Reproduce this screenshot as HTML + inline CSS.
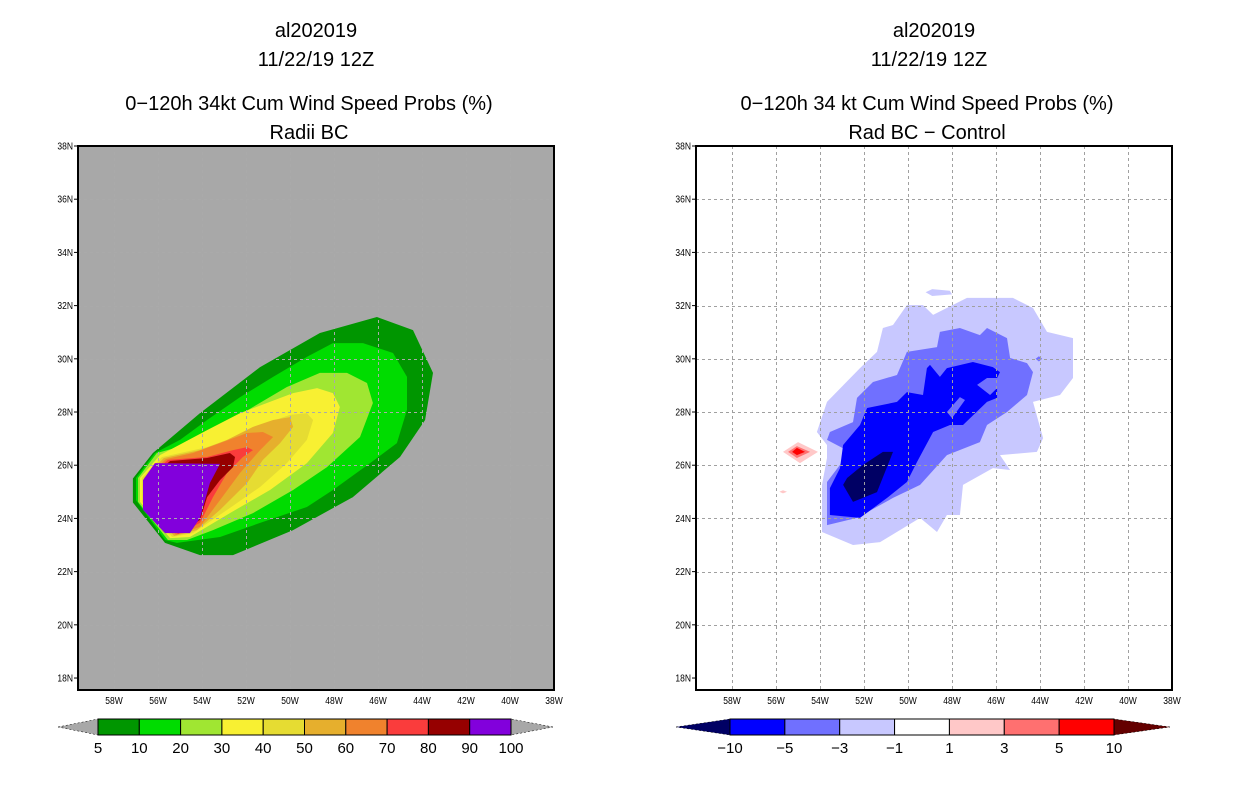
<!DOCTYPE html>
<html><head><meta charset="utf-8"><style>
html,body{margin:0;padding:0;background:#fff;}
svg{display:block;font-family:"Liberation Sans",sans-serif;}
</style></head><body>
<svg id="fig" width="1236" height="800" viewBox="0 0 1236 800">
<rect x="0" y="0" width="1236" height="800" fill="#fff"/>
<g font-size="20" text-anchor="middle" fill="#000">
<text x="316" y="37">al202019</text>
<text x="316" y="66">11/22/19 12Z</text>
<text x="309" y="110">0−120h 34kt Cum Wind Speed Probs (%)</text>
<text x="309" y="139">Radii BC</text>
</g>
<g font-size="20" text-anchor="middle" fill="#000">
<text x="934" y="37">al202019</text>
<text x="929" y="66">11/22/19 12Z</text>
<text x="927" y="110">0−120h 34 kt Cum Wind Speed Probs (%)</text>
<text x="927" y="139">Rad BC − Control</text>
</g>
<g id="left"></g>
<g id="right"></g>
<g id="cbl"></g>
<g id="cbr"></g>
</svg>
<script>
// ---- data ----
const lonTicks = [58,56,54,52,50,48,46,44,42,40,38];
const latTicks = [38,36,34,32,30,28,26,24,22,20,18];
const probLevels = ['5','10','20','30','40','50','60','70','80','90','100'];
const probColors = ['#009600','#00dc00','#a0e632','#f8f032','#e6dc32','#e6af2d','#f0822d','#fa3c3c','#960000','#8200dc'];
const diffLevels = ['−10','−5','−3','−1','1','3','5','10'];
const diffColors = ['#000064','#0000ff','#7070ff','#c8c8ff','#ffffff','#ffc8c8','#ff7070','#ff0000','#640000'];

const prob5 = [[56.23,26.46],[57.14,25.5],[57.14,24.6],[55.68,23.08],[54.09,22.62],[52.59,22.62],[49.86,23.56],[47.14,24.80],[45.0,26.31],[43.86,27.70],[43.5,29.47],[44.41,31.08],[46.05,31.57],[48.64,30.97],[51.36,29.69],[54.09,27.96]];
const prob10 = [[56.14,26.46],[57.0,25.52],[57.0,24.69],[55.68,23.19],[55.14,23.08],[53.18,23.30],[51.36,23.83],[49.23,24.43],[48.05,25.07],[46.36,26.08],[45.14,26.83],[44.68,28.08],[44.68,29.32],[45.32,30.22],[46.68,30.59],[48.05,30.59],[49.23,30.07],[50.77,29.32],[52.27,28.56],[53.77,27.70],[55.0,26.95]];
const prob20 = [[56.05,26.46],[56.91,25.52],[56.91,24.62],[55.55,23.19],[54.68,23.19],[53.5,23.56],[51.68,24.20],[49.86,25.07],[48.32,25.93],[46.82,27.06],[46.23,28.34],[46.5,29.09],[47.41,29.47],[48.64,29.47],[50.14,28.94],[51.68,28.19],[53.18,27.44],[54.41,26.83]];
const prob30 = [[55.91,26.38],[56.82,25.52],[56.82,24.62],[55.45,23.26],[54.55,23.30],[52.73,24.20],[50.91,25.07],[49.23,26.08],[48.05,27.21],[47.73,28.19],[48.05,28.71],[48.77,28.90],[49.86,28.71],[51.05,28.34],[52.27,27.96],[53.77,27.32]];
const prob40 = [[55.82,26.31],[56.73,25.52],[56.73,24.62],[55.36,23.30],[54.41,23.45],[52.86,24.32],[51.36,25.18],[50.14,26.08],[49.23,26.95],[48.95,27.70],[49.23,27.96],[50.0,27.89],[51.05,27.59],[52.41,27.06],[53.77,26.68]];
const prob50 = [[55.73,26.27],[56.64,25.52],[56.64,24.62],[55.27,23.34],[54.23,23.56],[53.18,24.32],[51.95,25.33],[51.23,26.20],[50.45,26.83],[49.86,27.44],[50.0,27.81],[50.77,27.70],[51.68,27.44],[52.86,26.95],[54.09,26.57]];
const prob60 = [[55.64,26.23],[56.55,25.52],[56.55,24.62],[55.18,23.38],[54.09,23.68],[53.18,24.69],[52.27,25.71],[51.36,26.57],[50.77,27.06],[51.23,27.25],[51.95,27.21],[53.18,26.83],[54.41,26.46]];
const prob70 = [[55.55,26.20],[56.45,25.52],[56.45,24.62],[55.09,23.41],[54.09,23.83],[53.5,24.80],[52.86,25.71],[52.14,26.31],[51.68,26.57],[51.95,26.68],[52.59,26.57],[53.77,26.31]];
const prob80 = [[55.45,26.16],[56.36,25.52],[56.36,24.62],[55.0,23.45],[54.09,23.94],[53.77,24.80],[53.18,25.44],[52.59,25.93],[52.5,26.31],[52.73,26.46],[53.77,26.27]];
const prob90 = [[56.14,26.08],[53.18,26.05],[53.64,25.33],[53.95,24.43],[54.09,24.02],[54.55,23.45],[55.68,23.45],[56.68,24.32],[56.68,25.44]];

const diffM1 = [[53.91,23.49],[52.5,23.0],[51.27,23.11],[49.45,24.02],[48.68,23.49],[48.23,24.13],[47.64,24.13],[47.5,25.26],[46.14,25.89],[45.36,25.82],[45.82,26.38],[44.14,26.50],[43.86,27.02],[44.32,28.38],[43.09,28.64],[42.5,29.28],[42.5,30.78],[43.68,31.01],[44.32,31.91],[45.23,32.29],[47.32,32.29],[48.86,31.65],[49.32,32.02],[50.05,32.02],[50.68,31.27],[51.14,31.16],[51.41,30.26],[52.18,29.65],[53.68,28.38],[54.14,27.25],[53.68,26.76],[53.68,26.27],[53.91,25.26]];
const diffM1b = [[49.2,32.5],[48.9,32.62],[48.1,32.56],[48.0,32.42],[48.9,32.36]];
const diffM3 = [[53.68,23.75],[52.32,24.02],[50.68,24.77],[49.45,25.26],[48.23,26.38],[46.73,26.87],[46.41,27.51],[45.5,28.0],[44.59,28.64],[44.32,29.50],[44.59,29.84],[45.36,30.03],[45.5,30.78],[46.41,31.16],[46.73,30.89],[47.64,31.16],[48.55,31.01],[48.68,30.44],[50.05,30.26],[50.5,29.39],[51.59,29.13],[52.32,28.53],[52.5,27.62],[53.55,27.25],[53.68,26.95],[52.64,26.50],[53.68,25.37]];
const diffM3b = [[44.2,30.0],[44.05,30.1],[43.9,30.0],[44.05,29.9]];
const diffM5 = [[53.55,24.13],[52.18,24.02],[50.95,24.77],[50.05,25.37],[49.59,26.12],[48.86,27.25],[48.09,27.51],[47.5,27.51],[46.41,28.38],[45.95,28.53],[45.95,28.90],[46.27,28.64],[46.86,29.02],[46.41,29.28],[45.95,29.28],[45.82,29.50],[46.14,29.69],[47.05,29.88],[48.23,29.65],[48.55,29.32],[49.0,29.77],[49.14,29.65],[49.32,28.64],[50.05,28.75],[50.5,28.38],[51.86,28.15],[52.18,27.51],[52.95,26.76],[53.09,25.89],[53.55,25.14]];
const diffM5hole = [[48.23,28.0],[47.64,28.56],[47.41,28.45],[48.0,27.77]];
const diffM10 = [[52.95,25.26],[52.5,24.62],[51.41,24.99],[50.68,26.50],[51.14,26.50],[52.05,26.01],[52.77,25.52]];
const diffP1 = [[55.68,26.5],[55.0,26.87],[54.09,26.5],[54.91,26.08]];
const diffP1b = [[55.85,25.0],[55.68,25.06],[55.5,25.0],[55.68,24.94]];
const diffP3 = [[55.45,26.5],[55.05,26.72],[54.45,26.5],[55.05,26.27]];
const diffP5 = [[55.27,26.5],[55.05,26.65],[54.68,26.5],[55.05,26.38]];

// ---- helpers ----
const NS='http://www.w3.org/2000/svg';
function mk(tag,attrs,parent){const e=document.createElementNS(NS,tag);for(const k in attrs)e.setAttribute(k,attrs[k]);parent.appendChild(e);return e;}
const PT=146, PB=690, PW=476;
function xs(x0){return lon=>x0+PW-(lon-38)*22;}
function ys(lat){return PT+(38-lat)*((PB-PT)/20.45);}

function panel(g,x0,bg,polys,gridCol){
  const X=xs(x0);
  const bgr=mk('rect',{x:x0,y:PT,width:PW,height:PB-PT,fill:bg},g);
  
  
  const clipId='clip'+x0;
  const cp=mk('clipPath',{id:clipId},g);
  mk('rect',{x:x0,y:PT,width:PW,height:PB-PT},cp);
  const pg=mk('g',{'clip-path':'url(#'+clipId+')'},g);
  polys.forEach(p=>{
    const el=mk('polygon',{points:p.pts.map(q=>X(q[0]).toFixed(1)+','+ys(q[1]).toFixed(1)).join(' '),fill:p.c},pg);
    
    
  });
  const gg=mk('g',{stroke:gridCol,'stroke-width':1,'stroke-dasharray':'3,3',fill:'none'},g);
  
  
  lonTicks.forEach(l=>{if(l>38){const x=Math.round(X(l))+0.5;mk('line',{x1:x,y1:PT,x2:x,y2:PB},gg);}});
  latTicks.forEach(l=>{if(l>18&&l<38){const y=Math.round(ys(l))+0.5;mk('line',{x1:x0,y1:y,x2:x0+PW,y2:y},gg);}});
  const fr=mk('rect',{x:x0,y:PT,width:PW,height:PB-PT,fill:'none',stroke:'#000','stroke-width':2},g);
  
  
  const ax=mk('g',{'font-size':10,fill:'#000'},g);
  
  
  latTicks.forEach(l=>{const y=ys(l);
    mk('line',{x1:x0-4,y1:y,x2:x0,y2:y,stroke:'#000'},ax);
    const t=mk('text',{x:x0-5,y:y+3.5,'text-anchor':'end',transform:'translate('+(x0-5)+',0) scale(0.85,1) translate('+(-(x0-5))+',0)'},ax);
    t.textContent=l+'N';
    
    });
  lonTicks.forEach(l=>{const x=X(l);
    const t=mk('text',{x:x,y:704,'text-anchor':'middle',transform:'translate('+x+',0) scale(0.85,1) translate('+(-x)+',0)'},ax);
    t.textContent=l+'W';
    
    });
}

panel(document.getElementById('left'),78,'#a8a8a8',[
 {pts:prob5,c:probColors[0],n:'prob-5-contour'},
 {pts:prob10,c:probColors[1],n:'prob-10-contour'},
 {pts:prob20,c:probColors[2],n:'prob-20-contour'},
 {pts:prob30,c:probColors[3],n:'prob-30-contour'},
 {pts:prob40,c:probColors[4],n:'prob-40-contour'},
 {pts:prob50,c:probColors[5],n:'prob-50-contour'},
 {pts:prob60,c:probColors[6],n:'prob-60-contour'},
 {pts:prob70,c:probColors[7],n:'prob-70-contour'},
 {pts:prob80,c:probColors[8],n:'prob-80-contour'},
 {pts:prob90,c:probColors[9],n:'prob-90-contour'}],'#aaaaaa');

panel(document.getElementById('right'),696,'#ffffff',[
 {pts:diffM1,c:diffColors[3],n:'diff-minus1-contour'},
 {pts:diffM1b,c:diffColors[3],n:'diff-minus1-blob'},
 {pts:diffM3,c:diffColors[2],n:'diff-minus3-contour'},
 {pts:diffM3b,c:diffColors[2],n:'diff-minus3-blob'},
 {pts:diffM5,c:diffColors[1],n:'diff-minus5-contour'},
 {pts:diffM5hole,c:diffColors[2],n:'diff-minus5-hole'},
 {pts:diffM10,c:diffColors[0],n:'diff-minus10-contour'},
 {pts:diffP1,c:diffColors[5],n:'diff-plus1-contour'},
 {pts:diffP1b,c:diffColors[5],n:'diff-plus1-blob'},
 {pts:diffP3,c:diffColors[6],n:'diff-plus3-contour'},
 {pts:diffP5,c:diffColors[7],n:'diff-plus5-contour'}],'#a0a0a0');

function colorbar(g,x1,x2,tipL,tipR,colors,labels,leftTri,rightTri){
  const y1=719,y2=735,ym=727;
  const n=colors.length, w=(x2-x1)/n;
  const tl=mk('polygon',{points:tipL+','+ym+' '+x1+','+y1+' '+x1+','+y2,fill:leftTri,stroke:'#000','stroke-width':0.5,'stroke-dasharray':'2,2'},g);
  
  
  const tr=mk('polygon',{points:tipR+','+ym+' '+x2+','+y1+' '+x2+','+y2,fill:rightTri,stroke:'#000','stroke-width':0.5,'stroke-dasharray':'2,2'},g);
  
  
  colors.forEach((c,i)=>{
    const r=mk('rect',{x:x1+i*w,y:y1,width:w,height:y2-y1,fill:c,stroke:'#000','stroke-width':1},g);
    
    
  });
  labels.forEach((s,i)=>{
    const t=mk('text',{x:x1+i*w,y:753,'text-anchor':'middle','font-size':15,fill:'#000'},g);
    t.textContent=s;
    
    
  });
}
colorbar(document.getElementById('cbl'),98,511,58,553,probColors,probLevels,'#a8a8a8','#a8a8a8');
colorbar(document.getElementById('cbr'),730,1114,676,1170,diffColors.slice(1,8),diffLevels,diffColors[0],diffColors[8]);
</script>
</body></html>
